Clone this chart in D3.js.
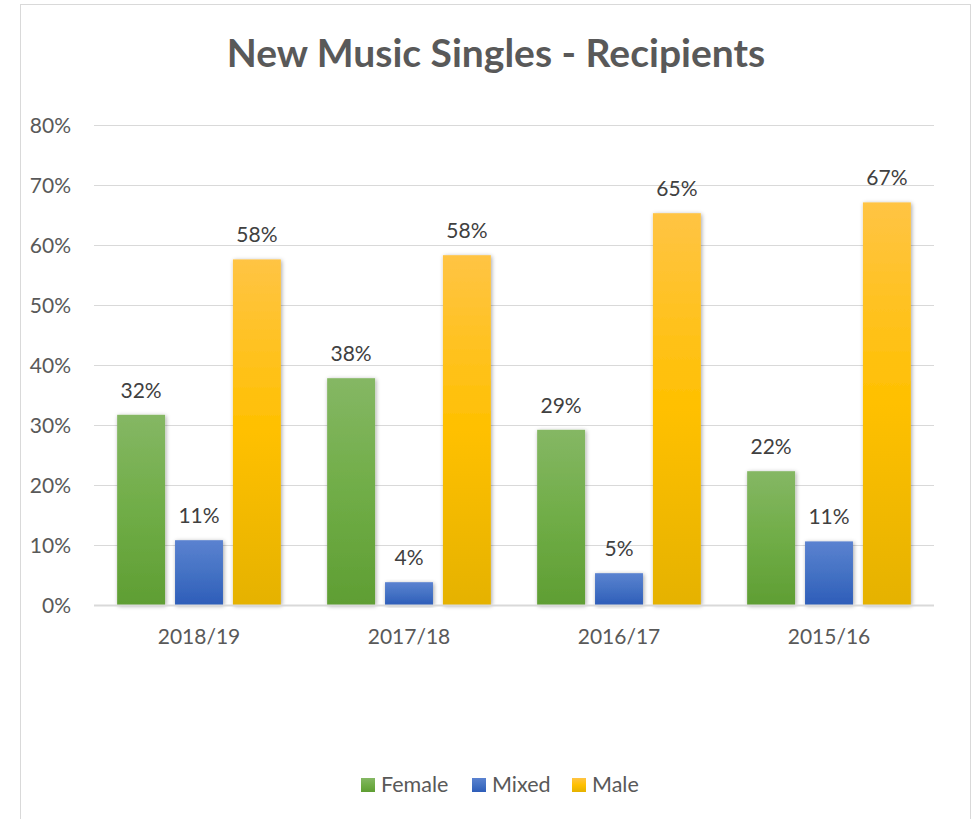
<!DOCTYPE html>
<html>
<head>
<meta charset="utf-8">
<script src="https://cdn.jsdelivr.net/npm/d3@7"></script>
<style>
  html, body { margin: 0; padding: 0; background: #fff; }
  svg { display: block; }
  text { font-family: Lato, "Open Sans", sans-serif; }
</style>
</head>
<body>
<svg id="chart" width="976" height="819"></svg>
<script>
const categories = ["2018/19", "2017/18", "2016/17", "2015/16"];
const seriesNames = ["Female", "Mixed", "Male"];
const female = [0.317, 0.378, 0.292, 0.223];
const mixed  = [0.108, 0.038, 0.053, 0.106];
const male   = [0.576, 0.583, 0.653, 0.671];
const yTicks = [0, 0.1, 0.2, 0.3, 0.4, 0.5, 0.6, 0.7, 0.8];
const title = "New Music Singles - Recipients";

const seriesValues = { Female: female, Mixed: mixed, Male: male };
const gradients = {
  Female: ["#85b764", "#70ad47", "#5f9e33"],
  Mixed:  ["#5b82d0", "#4472c4", "#2e5db9"],
  Male:   ["#ffc444", "#ffc000", "#e5b200"]
};

const svg = d3.select("#chart");
const defs = svg.append("defs");
seriesNames.forEach(s => {
  const g = defs.append("linearGradient").attr("id", "grad-" + s)
    .attr("x1", 0).attr("y1", 0).attr("x2", 0).attr("y2", 1);
  g.append("stop").attr("offset", "0%").attr("stop-color", gradients[s][0]);
  g.append("stop").attr("offset", "50%").attr("stop-color", gradients[s][1]);
  g.append("stop").attr("offset", "100%").attr("stop-color", gradients[s][2]);
});
const f = defs.append("filter").attr("id", "shadow")
  .attr("x", "-30%").attr("y", "-10%").attr("width", "160%").attr("height", "120%");
f.append("feDropShadow").attr("dx", 1).attr("dy", 1).attr("stdDeviation", 2)
  .attr("flood-color", "#000").attr("flood-opacity", 0.35);

// Chart border
svg.append("rect").attr("x", 20.5).attr("y", 4.5).attr("width", 950).attr("height", 830)
  .attr("fill", "#fff").attr("stroke", "#d9d9d9").attr("stroke-width", 1);

// Title
svg.append("text").attr("x", 496).attr("y", 67).attr("text-anchor", "middle")
  .attr("font-size", 39).attr("font-weight", "bold").attr("fill", "#595959")
  .text(title);

const y = d3.scaleLinear().domain([0, 0.8]).range([605, 125]);
const x0 = d3.scaleBand().domain(categories).range([94, 934]).paddingInner(0).paddingOuter(0);
const x1 = d3.scaleBand().domain(seriesNames).range([0, x0.bandwidth()])
  .paddingInner(0.172).paddingOuter(0.4);

// Gridlines
svg.append("g").selectAll("line").data(yTicks.filter(t => t > 0)).join("line")
  .attr("x1", 94).attr("x2", 934)
  .attr("y1", d => Math.round(y(d)) + 0.5).attr("y2", d => Math.round(y(d)) + 0.5)
  .attr("stroke", "#d9d9d9").attr("stroke-width", 1);

// Y labels
const fmt = d3.format(".0%");
svg.append("g").selectAll("text").data(yTicks).join("text")
  .attr("x", 71).attr("y", d => y(d) + 8).attr("text-anchor", "end")
  .attr("font-size", 21).attr("fill", "#595959").text(d => fmt(d));

// Bars
const groups = svg.append("g").selectAll("g").data(categories).join("g")
  .attr("transform", d => `translate(${x0(d)},0)`);
groups.selectAll("rect").data((c, i) => seriesNames.map(s => ({ s, v: seriesValues[s][i] })))
  .join("rect")
  .attr("x", d => x1(d.s)).attr("width", x1.bandwidth())
  .attr("y", d => y(d.v)).attr("height", d => y(0) - y(d.v))
  .attr("fill", d => `url(#grad-${d.s})`)
  .attr("filter", "url(#shadow)");
groups.selectAll("text").data((c, i) => seriesNames.map(s => ({ s, v: seriesValues[s][i] })))
  .join("text")
  .attr("x", d => x1(d.s) + x1.bandwidth() / 2).attr("y", d => y(d.v) - 17)
  .attr("text-anchor", "middle").attr("font-size", 21).attr("fill", "#404040")
  .text(d => Math.round(d.v * 100) + "%");

// X axis line
svg.append("line").attr("x1", 94).attr("x2", 934).attr("y1", 605.5).attr("y2", 605.5)
  .attr("stroke", "#d9d9d9").attr("stroke-width", 2);

// Category labels
svg.append("g").selectAll("text").data(categories).join("text")
  .attr("x", d => x0(d) + x0.bandwidth() / 2).attr("y", 644)
  .attr("text-anchor", "middle").attr("font-size", 21).attr("fill", "#595959")
  .text(d => d);

// Legend
const legendX = [361, 472, 572];
const lg = svg.append("g").selectAll("g").data(seriesNames).join("g")
  .attr("transform", (d, i) => `translate(${legendX[i]},778)`);
lg.append("rect").attr("width", 14).attr("height", 14).attr("fill", d => `url(#grad-${d})`);
lg.append("text").attr("x", 20).attr("y", 14).attr("font-size", 21.5).attr("fill", "#595959")
  .text(d => d);
</script>
</body>
</html>
